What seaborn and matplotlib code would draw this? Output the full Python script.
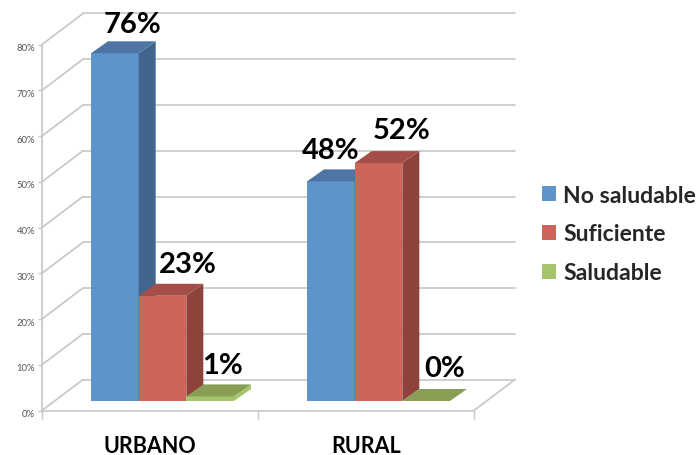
import pandas as pd
import matplotlib.pyplot as plt
from matplotlib.patches import Polygon, Patch
from matplotlib.transforms import ScaledTranslation
import seaborn as sns

zonas = ['URBANO', 'RURAL']
niveles = ['No saludable', 'Suficiente', 'Saludable']
no_saludable = [76, 48]
suficiente = [23, 52]
saludable = [1, 0]
y_ticks = [0, 10, 20, 30, 40, 50, 60, 70, 80]

sns.set_style('white')
plt.rcParams['font.family'] = ['Lato', 'DejaVu Sans']

df = pd.DataFrame({
    'zona': zonas * 3,
    'nivel': [n for n in niveles for _ in zonas],
    'valor': no_saludable + suficiente + saludable,
})

W, H = 699, 456
frente = ['#5F94CB', '#CC645A', '#A6C46A']
lado = ['#42658E', '#8E423C', '#A6C46A']
techo = ['#4C75A3', '#A34F48', '#889E55']
gris = '#C6C6C6'

fig = plt.figure(figsize=(W / 100, H / 100), dpi=100)

def px_axes(x0, x1, y_bottom, y_top):
    return fig.add_axes([x0 / W, 1 - y_bottom / H, (x1 - x0) / W, (y_bottom - y_top) / H])

# pixel size in data units, both axes share it
PX = 2 / 432
PY = 80 / 366

#%% front plane: ticks and labels
ax0 = px_axes(42, 474, 411.5, 45.5)
ax0.set_xlim(0, 2)
ax0.set_ylim(0, 80)
ax0.patch.set_alpha(0)
for s in ['top', 'right']:
    ax0.spines[s].set_visible(False)
for s in ['left', 'bottom']:
    ax0.spines[s].set_color(gris)
    ax0.spines[s].set_linewidth(1.2)
ax0.set_yticks(y_ticks, labels=[f'{t}%' for t in y_ticks])
ax0.tick_params(axis='y', length=3, width=1, color=gris, labelsize=6.8, labelcolor='#555555', pad=2, left=True)
for t in ax0.get_yticklabels():
    t.set_transform(t.get_transform() + ScaledTranslation(0, -1.5 / 72, fig.dpi_scale_trans))
ax0.set_xticks([0, 1, 2], labels=[])
ax0.tick_params(axis='x', which='major', length=6, width=1, color=gris, bottom=True)
ax0.set_xticks([0.5, 1.5], labels=zonas, minor=True)
ax0.tick_params(axis='x', which='minor', length=0, labelsize=15.5, pad=17.5)
for t in ax0.get_xticklabels(minor=True):
    t.set_fontweight('bold')
    t.set_color('black')

# walls
dx_w, dy_w = 41 * PX, 31 * PY
for t in y_ticks:
    ax0.plot([0, dx_w], [t, t + dy_w], color=gris, lw=1.2, clip_on=False, zorder=1)
    ax0.plot([dx_w, 2 + dx_w], [t + dy_w, t + dy_w], color=gris, lw=1.2, clip_on=False, zorder=1)
ax0.plot([2, 2 + dx_w], [0, dy_w], color=gris, lw=1.2, clip_on=False, zorder=1)

#%% bars sit a little behind the front plane
ax = px_axes(54.5, 486.5, 402, 36)
sns.barplot(data=df, x='zona', y='valor', hue='nivel', order=zonas, hue_order=niveles,
            palette=frente, saturation=1, width=0.662, gap=0, legend=False, linewidth=0, ax=ax)
ax.set_xlim(-0.5, 1.5)
ax.set_ylim(0, 80)
ax.axis('off')
ax.patch.set_alpha(0)

dx, dy = 17 * PX, 12 * PY
for i, cont in enumerate(ax.containers):
    for b in cont:
        x0, x1 = b.get_x(), b.get_x() + b.get_width()
        top = b.get_height()
        b.set_zorder(3 + i)
        b.set_clip_on(False)
        ax.add_patch(Polygon([(x1, 0), (x1 + dx, dy), (x1 + dx, top + dy), (x1, top)],
                             fc=lado[i], ec='none', zorder=3 + i, clip_on=False))
        ax.add_patch(Polygon([(x0, top), (x0 + dx, top + dy), (x1 + dx, top + dy), (x1, top)],
                             fc=techo[i], ec='none', zorder=3 + i, clip_on=False))

# label offsets from the top centre of each bar, in pixels
offsets = [[(18, 29), (0, 31.5)], [(25, 31.5), (23, 33.5)], [(12, 31.5), (18, 32.5)]]
for i, cont in enumerate(ax.containers):
    for j, b in enumerate(cont):
        ax.annotate(f'{b.get_height():.0f}%', (b.get_x() + b.get_width() / 2, b.get_height()),
                    xytext=(offsets[i][j][0] * 0.72, offsets[i][j][1] * 0.72), textcoords='offset points',
                    ha='center', va='center', fontsize=21, fontweight='bold', color='black',
                    annotation_clip=False, zorder=10)

handles = [Patch(fc=c, ec='none') for c in frente]
fig.legend(handles, niveles, loc='center left', bbox_to_anchor=(542 / W, 1 - 235 / H), frameon=False,
           prop={'size': 16.6, 'weight': 'bold'}, handlelength=0.61, handleheight=0.61,
           handletextpad=0.32, labelspacing=0.78, borderpad=0, borderaxespad=0)

fig.savefig('out.png', dpi=100)
